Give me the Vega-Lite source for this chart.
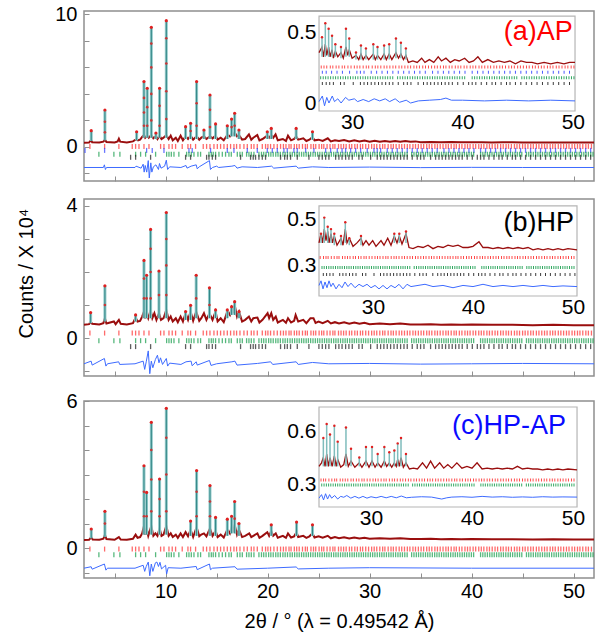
{
"$schema":"https://vega.github.io/schema/vega-lite/v6.json",
"background":"white",
"padding":{"left":15,"top":3,"right":5,"bottom":5},
"config":{"font":"Liberation Sans","view":{"stroke":"#8f8f8f","strokeWidth":1.5},"axis":{"labelColor":"#000","titleColor":"#000","labelFont":"Liberation Sans","titleFont":"Liberation Sans"}},
"datasets":{
"bragg":[
{"ph":"red","ya":0.04,"yb":0.15,"yc":-0.04,"ia":0.257,"ib":0.337,"ic":0.323,"xs":[2.58,4.02,5.42,6.73,7.06,7.39,7.88,8.37,9.51,9.84,10.33,10.65,10.98,11.63,12.19,12.45,12.94,13.69,14.02,14.35,14.74,15.07,15.39,15.72,16.05,16.37,16.7,16.96,17.29,17.68,18.01,18.4,18.66,18.99,19.48,19.8,20.03,20.29,20.62,20.95,21.27,21.55,21.8,22.1,22.3,22.62,22.85,23.1,23.42,23.7,23.9,24.25,24.5,24.72,25.05,25.3,25.51,25.83,26.12,26.4,26.6,26.95,27.2,27.45,27.7,28.02,28.25,28.55,28.8,29.1,29.32,29.62,29.9,30.2,30.45,30.7,31.0,31.28,31.5,31.82,32.1,32.33,32.6,32.9,33.15,33.42,33.7,33.95,34.25,34.5,34.78,35.05,35.3,35.6,35.85,36.1,36.4,36.65,36.92,37.2,37.48,37.72,38.0,38.28,38.5,38.8,39.05,39.35,39.6,39.85,40.15,40.4,40.7,40.95,41.2,41.5,41.75,42.02,42.3,42.55,42.85,43.1,43.38,43.62,43.9,44.2,44.45,44.7,45.0,45.25,45.52,45.8,46.05,46.35,46.6,46.88,47.15,47.4,47.7,47.95,48.2,48.5,48.75,49.02,49.3,49.55,49.85,50.1,50.38,50.62,50.9,51.2,51.45,51.75]},
{"ph":"blue","ya":-0.26,"ia":0.22,"xs":[2.1,4.02,8.14,8.69,9.84,12.29,12.61,14.41,16.05,16.7,18.01,18.99,19.97,20.46,20.95,21.6,21.93,22.58,22.91,23.73,24.54,25.69,26.18,26.83,27.3,27.65,28.14,28.63,29.12,29.77,30.43,30.75,31.08,31.73,32.22,32.71,33.2,33.69,34.18,34.67,35.16,35.65,36.14,36.63,37.29,37.78,38.27,38.76,39.25,39.74,40.23,40.88,41.37,41.86,42.35,42.84,43.33,43.82,44.31,44.8,45.29,45.78,46.27,46.76,47.25,47.74,48.23,48.72,49.21,49.7,50.19,50.68,51.18,51.67]},
{"ph":"green","ya":-0.55,"yb":-0.08,"yc":-0.27,"ia":0.18,"ib":0.293,"ic":0.295,"xs":[3.46,4.93,5.52,7.06,7.55,8.04,9.02,10.1,10.33,10.56,10.82,11.3,12.06,12.29,12.52,12.78,13.17,13.43,14.25,14.48,14.67,14.9,15.23,15.56,15.88,16.21,16.44,17.03,17.29,17.52,17.94,18.17,18.4,18.66,19.15,19.4,19.62,19.85,20.1,20.32,20.55,20.8,21.02,21.25,21.5,21.72,21.95,22.2,22.42,22.65,22.88,23.1,23.33,23.55,23.78,24.0,24.22,24.45,24.68,24.9,25.12,25.35,25.58,25.8,26.02,26.25,26.48,26.7,26.92,27.15,27.38,27.6,27.82,28.05,28.28,28.5,28.72,28.95,29.18,29.4,29.62,29.85,30.08,30.3,30.52,30.75,30.98,31.2,31.42,31.65,31.88,32.1,32.32,32.55,32.78,33.0,33.22,33.45,33.68,34.12,34.35,34.58,34.8,35.02,35.25,35.48,35.7,35.92,36.15,36.38,36.6,36.82,37.05,37.28,37.5,37.72,37.95,38.18,38.4,38.62,38.85,39.08,39.3,39.52,39.75,39.98,40.2,40.88,41.1,41.32,41.55,41.78,42.0,42.22,42.45,42.68,42.9,43.12,43.35,43.58,43.8,44.02,44.25,44.48,44.7,44.92,45.38,45.6,45.82,46.05,46.28,46.5,46.72,46.95,47.18,47.4,47.62,47.85,48.08,48.3,48.52,48.75,48.98,49.2,49.42,49.65,49.88,50.1,50.32,50.55,50.78,51.0,51.22,51.45,51.68,51.9]},
{"ph":"black","ya":-0.78,"yb":-0.26,"ia":0.14,"ib":0.263,"xs":[6.57,7.06,8.53,11.96,12.45,14.02,14.25,14.58,14.9,17.35,18.33,18.59,18.82,19.15,19.48,19.8,21.27,21.67,21.93,22.25,22.91,24.05,25.03,25.36,25.69,26.01,26.67,26.99,27.3,27.65,27.97,28.3,28.95,29.28,30.1,30.75,31.08,31.4,31.73,32.06,32.39,32.71,33.04,33.37,33.69,34.18,34.67,35.0,35.33,35.98,36.47,36.8,37.12,37.45,37.78,38.1,38.43,38.76,39.08,39.57,40.07,40.56,40.88,41.21,41.7,42.19,42.68,43.0,43.5,43.99,44.31,44.8,45.29,45.78,46.27,46.76,47.25,47.74,48.23,48.72,49.21,49.7,50.19,50.68,51.18,51.67]}
],
"la":[{"x":2,"y":0.32},{"x":2.5,"y":0.33},{"x":2.62,"y":0.45},{"x":2.71,"y":0.5},{"x":2.8,"y":0.36},{"x":3.5,"y":0.33},{"x":3.9,"y":0.4},{"x":4.05,"y":0.55},{"x":4.2,"y":0.38},{"x":5.0,"y":0.34},{"x":5.3,"y":0.42},{"x":5.42,"y":0.62},{"x":5.55,"y":0.4},{"x":6.2,"y":0.34},{"x":6.8,"y":0.42},{"x":7.16,"y":0.6},{"x":7.3,"y":0.5},{"x":7.5,"y":0.55},{"x":7.7,"y":0.75},{"x":7.88,"y":0.9},{"x":8.0,"y":0.7},{"x":8.2,"y":0.85},{"x":8.35,"y":0.7},{"x":8.6,"y":0.9},{"x":8.8,"y":0.65},{"x":9.05,"y":0.8},{"x":9.2,"y":0.6},{"x":9.41,"y":0.85},{"x":9.6,"y":0.6},{"x":9.8,"y":0.7},{"x":10.07,"y":0.9},{"x":10.3,"y":0.6},{"x":10.5,"y":0.85},{"x":10.7,"y":0.5},{"x":11.0,"y":0.7},{"x":11.2,"y":0.45},{"x":11.47,"y":0.85},{"x":11.7,"y":0.5},{"x":11.96,"y":0.8},{"x":12.2,"y":0.6},{"x":12.45,"y":0.85},{"x":12.7,"y":0.55},{"x":13.04,"y":0.8},{"x":13.3,"y":0.55},{"x":13.5,"y":0.7},{"x":13.76,"y":0.8},{"x":14.0,"y":0.6},{"x":14.35,"y":0.8},{"x":14.6,"y":0.65},{"x":14.9,"y":0.85},{"x":15.1,"y":0.55},{"x":15.4,"y":0.7},{"x":15.7,"y":0.5},{"x":16.05,"y":0.9},{"x":16.3,"y":0.8},{"x":16.47,"y":1.0},{"x":16.6,"y":0.9},{"x":16.77,"y":1.1},{"x":17.0,"y":0.8},{"x":17.19,"y":0.9},{"x":17.5,"y":0.55},{"x":17.8,"y":0.6},{"x":18.17,"y":0.95},{"x":18.4,"y":0.55},{"x":18.6,"y":0.7},{"x":18.99,"y":0.9},{"x":19.2,"y":0.5},{"x":19.5,"y":0.6},{"x":19.97,"y":0.85},{"x":20.15,"y":0.7},{"x":20.36,"y":0.9},{"x":20.55,"y":0.7},{"x":20.78,"y":0.95},{"x":21.0,"y":0.5},{"x":21.5,"y":0.6},{"x":21.8,"y":0.45},{"x":22.0,"y":0.85},{"x":22.3,"y":0.5},{"x":22.6,"y":0.6},{"x":22.8,"y":0.8},{"x":23.0,"y":0.55},{"x":23.5,"y":0.65},{"x":23.8,"y":0.45},{"x":24.1,"y":0.55},{"x":24.4,"y":0.75},{"x":24.6,"y":0.5},{"x":25.0,"y":0.55},{"x":25.4,"y":0.45},{"x":25.9,"y":0.65},{"x":26.2,"y":0.42},{"x":26.6,"y":0.5},{"x":27.0,"y":0.45},{"x":27.5,"y":0.52},{"x":28.0,"y":0.42},{"x":28.5,"y":0.5},{"x":29.0,"y":0.42},{"x":29.5,"y":0.48},{"x":30.0,"y":0.4},{"x":30.5,"y":0.46},{"x":31,"y":0.4},{"x":31.5,"y":0.45},{"x":32,"y":0.4},{"x":32.5,"y":0.44},{"x":33,"y":0.4},{"x":33.5,"y":0.44},{"x":34,"y":0.4},{"x":34.5,"y":0.42},{"x":35,"y":0.36},{"x":36,"y":0.38},{"x":37,"y":0.35},{"x":38,"y":0.37},{"x":39,"y":0.35},{"x":40,"y":0.36},{"x":41,"y":0.35},{"x":42,"y":0.34},{"x":43,"y":0.35},{"x":44,"y":0.35},{"x":45,"y":0.34},{"x":46,"y":0.33},{"x":47,"y":0.34},{"x":48,"y":0.34},{"x":49,"y":0.33},{"x":50,"y":0.33},{"x":51,"y":0.33},{"x":52,"y":0.33}],
"pa":[{"x":2.71,"b":0.45,"y":1.23},{"x":4.05,"b":0.5,"y":2.79},{"x":7.16,"b":0.5,"y":1.15},{"x":7.88,"b":0.7,"y":4.93},{"x":8.2,"b":0.7,"y":4.43},{"x":8.6,"b":0.7,"y":9.03},{"x":9.05,"b":0.6,"y":1.05},{"x":9.41,"b":0.7,"y":4.43},{"x":10.07,"b":0.7,"y":9.53},{"x":11.96,"b":0.6,"y":1.53},{"x":12.45,"b":0.6,"y":1.79},{"x":13.04,"b":0.6,"y":4.93},{"x":13.76,"b":0.6,"y":1.28},{"x":14.35,"b":0.6,"y":3.92},{"x":14.9,"b":0.6,"y":1.74},{"x":16.05,"b":0.6,"y":1.6},{"x":16.47,"b":0.8,"y":2.1},{"x":16.77,"b":0.8,"y":2.54},{"x":17.19,"b":0.6,"y":1.28},{"x":19.97,"b":0.6,"y":1.15},{"x":20.36,"b":0.6,"y":1.4},{"x":22.8,"b":0.6,"y":1.4},{"x":24.4,"b":0.55,"y":1.15}],
"oa":[{"x":4.05,"y":1.1},{"x":4.05,"y":1.9},{"x":7.88,"y":1.6},{"x":7.88,"y":2.6},{"x":7.88,"y":3.7},{"x":8.2,"y":1.6},{"x":8.2,"y":3.0},{"x":8.6,"y":2.0},{"x":8.6,"y":4.0},{"x":8.6,"y":6.0},{"x":8.6,"y":7.8},{"x":9.41,"y":1.6},{"x":9.41,"y":3.1},{"x":10.07,"y":2.1},{"x":10.07,"y":4.2},{"x":10.07,"y":6.3},{"x":10.07,"y":8.2},{"x":13.04,"y":1.6},{"x":13.04,"y":3.3},{"x":14.35,"y":1.5},{"x":14.35,"y":2.8},{"x":16.77,"y":1.6},{"x":12.45,"y":1.2},{"x":16.47,"y":1.5}],
"da":[{"x":2,"y":-1.55},{"x":3.9,"y":-1.55},{"x":4.0,"y":-1.35},{"x":4.1,"y":-1.7},{"x":4.2,"y":-1.55},{"x":7.0,"y":-1.55},{"x":7.1,"y":-1.45},{"x":7.6,"y":-1.6},{"x":7.8,"y":-1.3},{"x":7.9,"y":-1.9},{"x":8.0,"y":-1.4},{"x":8.15,"y":-1.9},{"x":8.3,"y":-1.03},{"x":8.4,"y":-2.34},{"x":8.55,"y":-1.2},{"x":8.65,"y":-1.9},{"x":8.8,"y":-1.5},{"x":9.05,"y":-1.35},{"x":9.3,"y":-1.7},{"x":9.4,"y":-1.25},{"x":9.55,"y":-1.6},{"x":9.9,"y":-1.45},{"x":10.07,"y":-1.0},{"x":10.2,"y":-1.7},{"x":10.4,"y":-1.5},{"x":11.5,"y":-1.55},{"x":12.0,"y":-1.4},{"x":12.1,"y":-1.6},{"x":12.5,"y":-1.45},{"x":13.0,"y":-1.35},{"x":13.1,"y":-1.65},{"x":13.3,"y":-1.5},{"x":14.3,"y":-1.03},{"x":14.4,"y":-1.7},{"x":14.6,"y":-1.55},{"x":15.0,"y":-1.45},{"x":15.2,"y":-1.55},{"x":16.5,"y":-1.45},{"x":16.8,"y":-1.4},{"x":17.0,"y":-1.6},{"x":17.5,"y":-1.5},{"x":19.0,"y":-1.55},{"x":20.4,"y":-1.45},{"x":20.6,"y":-1.6},{"x":22.8,"y":-1.45},{"x":23.0,"y":-1.6},{"x":24.4,"y":-1.5},{"x":26,"y":-1.55},{"x":30,"y":-1.52},{"x":35,"y":-1.56},{"x":40,"y":-1.54},{"x":45,"y":-1.55},{"x":52,"y":-1.55}],
"lb":[{"x":2,"y":0.4},{"x":2.5,"y":0.42},{"x":2.65,"y":0.5},{"x":2.8,"y":0.43},{"x":3.5,"y":0.41},{"x":3.9,"y":0.45},{"x":4.05,"y":0.6},{"x":4.2,"y":0.44},{"x":4.93,"y":0.5},{"x":5.1,"y":0.42},{"x":5.42,"y":0.55},{"x":5.6,"y":0.43},{"x":6.2,"y":0.41},{"x":6.8,"y":0.45},{"x":7.06,"y":0.62},{"x":7.25,"y":0.5},{"x":7.5,"y":0.52},{"x":7.7,"y":0.65},{"x":7.88,"y":0.8},{"x":8.0,"y":0.6},{"x":8.14,"y":0.75},{"x":8.3,"y":0.6},{"x":8.53,"y":0.85},{"x":8.7,"y":0.6},{"x":8.9,"y":0.75},{"x":9.1,"y":0.55},{"x":9.35,"y":0.75},{"x":9.55,"y":0.55},{"x":9.8,"y":0.6},{"x":10.07,"y":0.85},{"x":10.3,"y":0.55},{"x":10.5,"y":0.65},{"x":10.7,"y":0.5},{"x":11.0,"y":0.6},{"x":11.2,"y":0.48},{"x":11.47,"y":0.65},{"x":11.7,"y":0.5},{"x":11.96,"y":0.75},{"x":12.2,"y":0.55},{"x":12.45,"y":0.8},{"x":12.7,"y":0.52},{"x":13.0,"y":0.8},{"x":13.3,"y":0.52},{"x":13.5,"y":0.6},{"x":13.76,"y":0.75},{"x":14.0,"y":0.55},{"x":14.3,"y":0.75},{"x":14.6,"y":0.55},{"x":14.9,"y":0.8},{"x":15.1,"y":0.5},{"x":15.4,"y":0.6},{"x":15.7,"y":0.48},{"x":16.05,"y":0.8},{"x":16.3,"y":0.7},{"x":16.47,"y":0.9},{"x":16.6,"y":0.75},{"x":16.77,"y":1.0},{"x":17.0,"y":0.65},{"x":17.2,"y":0.8},{"x":17.5,"y":0.5},{"x":17.8,"y":0.55},{"x":18.17,"y":0.65},{"x":18.4,"y":0.5},{"x":18.6,"y":0.6},{"x":19.0,"y":0.62},{"x":19.2,"y":0.47},{"x":19.5,"y":0.55},{"x":20.0,"y":0.75},{"x":20.15,"y":0.6},{"x":20.36,"y":0.75},{"x":20.55,"y":0.55},{"x":20.8,"y":0.65},{"x":21.0,"y":0.47},{"x":21.5,"y":0.55},{"x":21.8,"y":0.46},{"x":22.0,"y":0.6},{"x":22.3,"y":0.47},{"x":22.6,"y":0.52},{"x":22.75,"y":0.7},{"x":23.0,"y":0.5},{"x":23.5,"y":0.55},{"x":23.8,"y":0.45},{"x":24.2,"y":0.6},{"x":24.5,"y":0.6},{"x":24.7,"y":0.46},{"x":25.0,"y":0.5},{"x":25.4,"y":0.45},{"x":25.9,"y":0.52},{"x":26.2,"y":0.44},{"x":26.6,"y":0.48},{"x":27,"y":0.44},{"x":27.5,"y":0.48},{"x":28,"y":0.43},{"x":28.5,"y":0.47},{"x":29,"y":0.43},{"x":29.5,"y":0.46},{"x":30,"y":0.42},{"x":31,"y":0.44},{"x":32,"y":0.42},{"x":33,"y":0.44},{"x":34,"y":0.41},{"x":35,"y":0.41},{"x":36,"y":0.42},{"x":37,"y":0.4},{"x":38,"y":0.41},{"x":39,"y":0.4},{"x":40,"y":0.41},{"x":42,"y":0.4},{"x":44,"y":0.4},{"x":46,"y":0.39},{"x":48,"y":0.4},{"x":50,"y":0.39},{"x":52,"y":0.39}],
"pb":[{"x":2.65,"b":0.45,"y":0.77},{"x":4.05,"b":0.5,"y":1.58},{"x":7.06,"b":0.5,"y":0.7},{"x":7.88,"b":0.6,"y":2.35},{"x":8.14,"b":0.6,"y":1.9},{"x":8.53,"b":0.6,"y":3.29},{"x":9.35,"b":0.6,"y":2.03},{"x":10.07,"b":0.6,"y":3.8},{"x":11.96,"b":0.55,"y":0.8},{"x":12.45,"b":0.55,"y":0.99},{"x":13.0,"b":0.6,"y":1.9},{"x":14.3,"b":0.6,"y":1.52},{"x":14.9,"b":0.6,"y":0.85},{"x":16.05,"b":0.6,"y":0.85},{"x":16.47,"b":0.7,"y":0.95},{"x":16.77,"b":0.7,"y":1.1},{"x":17.2,"b":0.6,"y":0.8}],
"ob":[{"x":4.05,"y":1.0},{"x":7.88,"y":1.2},{"x":7.88,"y":1.8},{"x":8.14,"y":1.2},{"x":8.53,"y":1.2},{"x":8.53,"y":2.0},{"x":8.53,"y":2.7},{"x":9.35,"y":1.3},{"x":10.07,"y":1.3},{"x":10.07,"y":2.2},{"x":10.07,"y":3.0},{"x":13.0,"y":1.2},{"x":14.3,"y":1.0}],
"db":[{"x":2,"y":-0.78},{"x":2.7,"y":-0.7},{"x":2.8,"y":-0.82},{"x":4.0,"y":-0.62},{"x":4.15,"y":-0.85},{"x":4.3,"y":-0.78},{"x":5.4,"y":-0.72},{"x":5.5,"y":-0.8},{"x":7.0,"y":-0.78},{"x":7.8,"y":-0.7},{"x":7.95,"y":-0.95},{"x":8.1,"y":-0.72},{"x":8.3,"y":-0.39},{"x":8.45,"y":-1.08},{"x":8.6,"y":-0.7},{"x":8.75,"y":-0.9},{"x":9.0,"y":-0.65},{"x":9.2,"y":-0.52},{"x":9.35,"y":-0.75},{"x":9.5,"y":-0.6},{"x":9.7,"y":-0.8},{"x":10.07,"y":-0.62},{"x":10.2,"y":-0.85},{"x":10.4,"y":-0.76},{"x":11.5,"y":-0.8},{"x":12.0,"y":-0.72},{"x":12.5,"y":-0.7},{"x":12.6,"y":-0.84},{"x":13.0,"y":-0.72},{"x":13.1,"y":-0.82},{"x":14.3,"y":-0.68},{"x":14.45,"y":-0.83},{"x":15,"y":-0.78},{"x":16.5,"y":-0.72},{"x":16.8,"y":-0.7},{"x":17.0,"y":-0.82},{"x":19.0,"y":-0.77},{"x":20.3,"y":-0.72},{"x":20.5,"y":-0.8},{"x":22.8,"y":-0.72},{"x":23.0,"y":-0.8},{"x":24.4,"y":-0.74},{"x":26,"y":-0.78},{"x":30,"y":-0.77},{"x":35,"y":-0.79},{"x":40,"y":-0.78},{"x":45,"y":-0.77},{"x":52,"y":-0.78}],
"lc":[{"x":2,"y":0.33},{"x":2.5,"y":0.34},{"x":2.71,"y":0.45},{"x":2.85,"y":0.35},{"x":3.5,"y":0.34},{"x":3.9,"y":0.38},{"x":4.05,"y":0.55},{"x":4.2,"y":0.37},{"x":5.0,"y":0.34},{"x":5.42,"y":0.45},{"x":5.6,"y":0.35},{"x":6.2,"y":0.34},{"x":6.8,"y":0.38},{"x":7.06,"y":0.55},{"x":7.25,"y":0.42},{"x":7.5,"y":0.45},{"x":7.7,"y":0.6},{"x":7.88,"y":0.9},{"x":8.0,"y":0.55},{"x":8.14,"y":0.8},{"x":8.3,"y":0.5},{"x":8.6,"y":0.9},{"x":8.8,"y":0.5},{"x":9.0,"y":0.6},{"x":9.2,"y":0.5},{"x":9.41,"y":0.8},{"x":9.6,"y":0.5},{"x":9.8,"y":0.55},{"x":10.07,"y":0.9},{"x":10.3,"y":0.5},{"x":10.5,"y":0.6},{"x":10.7,"y":0.45},{"x":11.0,"y":0.55},{"x":11.2,"y":0.42},{"x":11.47,"y":0.6},{"x":11.7,"y":0.45},{"x":11.96,"y":0.65},{"x":12.2,"y":0.48},{"x":12.45,"y":0.75},{"x":12.7,"y":0.45},{"x":13.04,"y":0.85},{"x":13.3,"y":0.48},{"x":13.5,"y":0.55},{"x":13.76,"y":0.6},{"x":14.0,"y":0.48},{"x":14.35,"y":0.8},{"x":14.6,"y":0.5},{"x":14.9,"y":0.7},{"x":15.1,"y":0.45},{"x":15.4,"y":0.55},{"x":15.7,"y":0.43},{"x":16.05,"y":0.75},{"x":16.3,"y":0.6},{"x":16.47,"y":0.85},{"x":16.6,"y":0.65},{"x":16.77,"y":0.95},{"x":17.0,"y":0.55},{"x":17.19,"y":0.75},{"x":17.5,"y":0.45},{"x":17.8,"y":0.5},{"x":18.2,"y":0.6},{"x":18.4,"y":0.45},{"x":18.6,"y":0.5},{"x":19.0,"y":0.6},{"x":19.2,"y":0.42},{"x":19.5,"y":0.5},{"x":19.97,"y":0.65},{"x":20.15,"y":0.5},{"x":20.36,"y":0.7},{"x":20.55,"y":0.5},{"x":20.8,"y":0.6},{"x":21.0,"y":0.42},{"x":21.5,"y":0.5},{"x":21.8,"y":0.42},{"x":22.0,"y":0.6},{"x":22.3,"y":0.43},{"x":22.6,"y":0.48},{"x":22.84,"y":0.65},{"x":23.0,"y":0.45},{"x":23.5,"y":0.5},{"x":23.8,"y":0.42},{"x":24.1,"y":0.48},{"x":24.4,"y":0.6},{"x":24.6,"y":0.43},{"x":25.0,"y":0.48},{"x":25.4,"y":0.42},{"x":25.9,"y":0.5},{"x":26.2,"y":0.4},{"x":26.6,"y":0.45},{"x":27,"y":0.4},{"x":27.5,"y":0.44},{"x":28,"y":0.39},{"x":28.5,"y":0.43},{"x":29,"y":0.39},{"x":29.5,"y":0.42},{"x":30,"y":0.38},{"x":31,"y":0.4},{"x":32,"y":0.38},{"x":33,"y":0.4},{"x":34,"y":0.37},{"x":35,"y":0.37},{"x":36,"y":0.38},{"x":37,"y":0.36},{"x":38,"y":0.37},{"x":39,"y":0.36},{"x":40,"y":0.37},{"x":42,"y":0.36},{"x":44,"y":0.36},{"x":46,"y":0.35},{"x":48,"y":0.36},{"x":50,"y":0.35},{"x":52,"y":0.35}],
"pc":[{"x":2.71,"b":0.4,"y":0.78},{"x":4.05,"b":0.45,"y":1.5},{"x":7.88,"b":0.55,"y":3.36},{"x":8.14,"b":0.55,"y":2.27},{"x":8.6,"b":0.55,"y":5.13},{"x":9.41,"b":0.55,"y":2.82},{"x":10.07,"b":0.55,"y":5.7},{"x":12.45,"b":0.5,"y":1.1},{"x":13.04,"b":0.5,"y":3.16},{"x":14.35,"b":0.5,"y":2.55},{"x":14.9,"b":0.5,"y":1.25},{"x":16.05,"b":0.5,"y":1.18},{"x":16.47,"b":0.6,"y":1.3},{"x":16.77,"b":0.6,"y":1.9},{"x":17.19,"b":0.5,"y":1.0},{"x":20.36,"b":0.5,"y":0.95},{"x":22.84,"b":0.5,"y":1.06},{"x":24.4,"b":0.5,"y":0.95}],
"oc":[{"x":4.05,"y":1.0},{"x":7.88,"y":1.3},{"x":7.88,"y":2.3},{"x":8.14,"y":1.3},{"x":8.6,"y":1.5},{"x":8.6,"y":2.8},{"x":8.6,"y":4.0},{"x":9.41,"y":1.3},{"x":9.41,"y":2.0},{"x":10.07,"y":1.5},{"x":10.07,"y":3.0},{"x":10.07,"y":4.5},{"x":13.04,"y":1.3},{"x":13.04,"y":2.3},{"x":14.35,"y":1.3},{"x":14.35,"y":1.9},{"x":16.77,"y":1.2}],
"dc":[{"x":2,"y":-0.82},{"x":2.7,"y":-0.76},{"x":2.8,"y":-0.86},{"x":4.0,"y":-0.65},{"x":4.15,"y":-0.9},{"x":4.3,"y":-0.82},{"x":7.0,"y":-0.82},{"x":7.8,"y":-0.7},{"x":7.95,"y":-0.95},{"x":8.1,"y":-0.75},{"x":8.3,"y":-0.57},{"x":8.45,"y":-1.13},{"x":8.6,"y":-0.65},{"x":8.75,"y":-0.95},{"x":9.0,"y":-0.6},{"x":9.15,"y":-0.57},{"x":9.3,"y":-0.75},{"x":9.45,"y":-0.58},{"x":9.6,"y":-0.85},{"x":10.0,"y":-0.7},{"x":10.1,"y":-1.06},{"x":10.25,"y":-0.8},{"x":11.5,"y":-0.82},{"x":13.0,"y":-0.75},{"x":13.1,"y":-0.88},{"x":14.3,"y":-0.65},{"x":14.4,"y":-0.88},{"x":14.6,"y":-0.82},{"x":16.8,"y":-0.76},{"x":17.0,"y":-0.86},{"x":20,"y":-0.82},{"x":22.8,"y":-0.77},{"x":23,"y":-0.85},{"x":26,"y":-0.82},{"x":30,"y":-0.8},{"x":40,"y":-0.82},{"x":52,"y":-0.82}],
"ila":[{"x":27.0,"y":0.36},{"x":27.27,"y":0.4},{"x":27.4,"y":0.33},{"x":27.57,"y":0.42},{"x":27.7,"y":0.34},{"x":27.87,"y":0.4},{"x":28.0,"y":0.33},{"x":28.18,"y":0.38},{"x":28.3,"y":0.32},{"x":28.48,"y":0.37},{"x":28.7,"y":0.33},{"x":28.99,"y":0.36},{"x":29.2,"y":0.32},{"x":29.44,"y":0.4},{"x":29.6,"y":0.34},{"x":29.74,"y":0.38},{"x":30.0,"y":0.32},{"x":30.35,"y":0.34},{"x":30.6,"y":0.31},{"x":30.8,"y":0.35},{"x":31.0,"y":0.31},{"x":31.25,"y":0.34},{"x":31.5,"y":0.31},{"x":31.92,"y":0.35},{"x":32.1,"y":0.31},{"x":32.3,"y":0.34},{"x":32.6,"y":0.31},{"x":32.9,"y":0.35},{"x":33.1,"y":0.31},{"x":33.36,"y":0.35},{"x":33.6,"y":0.31},{"x":33.97,"y":0.36},{"x":34.2,"y":0.32},{"x":34.42,"y":0.35},{"x":34.65,"y":0.31},{"x":34.87,"y":0.34},{"x":35.1,"y":0.29},{"x":35.5,"y":0.3},{"x":35.9,"y":0.29},{"x":36.3,"y":0.32},{"x":36.6,"y":0.29},{"x":37.0,"y":0.31},{"x":37.4,"y":0.29},{"x":37.8,"y":0.33},{"x":38.1,"y":0.3},{"x":38.5,"y":0.32},{"x":38.9,"y":0.29},{"x":39.3,"y":0.31},{"x":39.7,"y":0.3},{"x":40.2,"y":0.32},{"x":40.6,"y":0.29},{"x":41.0,"y":0.3},{"x":41.4,"y":0.33},{"x":41.8,"y":0.29},{"x":42.3,"y":0.31},{"x":42.8,"y":0.29},{"x":43.3,"y":0.3},{"x":43.8,"y":0.29},{"x":44.3,"y":0.3},{"x":44.8,"y":0.28},{"x":45.3,"y":0.3},{"x":45.8,"y":0.29},{"x":46.3,"y":0.29},{"x":46.8,"y":0.28},{"x":47.4,"y":0.29},{"x":48.0,"y":0.28},{"x":48.6,"y":0.29},{"x":49.2,"y":0.28},{"x":49.7,"y":0.29},{"x":50.2,"y":0.29}],
"ipa":[{"x":27.27,"b":0.33,"y":0.47},{"x":27.57,"b":0.33,"y":0.57},{"x":27.87,"b":0.33,"y":0.53},{"x":28.18,"b":0.33,"y":0.48},{"x":28.48,"b":0.33,"y":0.42},{"x":28.99,"b":0.32,"y":0.4},{"x":29.44,"b":0.33,"y":0.53},{"x":29.74,"b":0.33,"y":0.46},{"x":30.35,"b":0.31,"y":0.36},{"x":30.8,"b":0.31,"y":0.41},{"x":31.25,"b":0.31,"y":0.39},{"x":31.92,"b":0.31,"y":0.42},{"x":32.3,"b":0.31,"y":0.4},{"x":32.9,"b":0.31,"y":0.41},{"x":33.36,"b":0.31,"y":0.42},{"x":33.97,"b":0.32,"y":0.46},{"x":34.42,"b":0.32,"y":0.43},{"x":34.87,"b":0.31,"y":0.39}],
"ida":[{"x":27,"y":0.01},{"x":27.3,"y":0.05},{"x":27.5,"y":-0.02},{"x":27.7,"y":0.04},{"x":27.9,"y":0.0},{"x":28.2,"y":0.05},{"x":28.4,"y":0.01},{"x":28.7,"y":0.03},{"x":29.0,"y":0.0},{"x":29.4,"y":0.04},{"x":29.7,"y":0.02},{"x":30.2,"y":0.03},{"x":30.5,"y":0.01},{"x":31,"y":0.025},{"x":31.5,"y":0.01},{"x":32,"y":0.03},{"x":32.5,"y":0.015},{"x":33,"y":0.03},{"x":33.4,"y":0.01},{"x":33.9,"y":0.03},{"x":34.3,"y":0.005},{"x":34.9,"y":0.02},{"x":35.3,"y":0.0},{"x":36,"y":0.015},{"x":37,"y":0.02},{"x":38,"y":0.025},{"x":38.5,"y":0.035},{"x":39,"y":0.02},{"x":40,"y":0.02},{"x":42,"y":0.015},{"x":44,"y":0.02},{"x":46,"y":0.015},{"x":48,"y":0.02},{"x":50.2,"y":0.015}],
"ilb":[{"x":24.6,"y":0.4},{"x":24.8,"y":0.44},{"x":24.95,"y":0.4},{"x":25.13,"y":0.46},{"x":25.3,"y":0.41},{"x":25.47,"y":0.45},{"x":25.6,"y":0.4},{"x":25.8,"y":0.44},{"x":25.95,"y":0.4},{"x":26.13,"y":0.43},{"x":26.4,"y":0.39},{"x":26.8,"y":0.42},{"x":27.0,"y":0.39},{"x":27.23,"y":0.46},{"x":27.4,"y":0.4},{"x":27.63,"y":0.42},{"x":28.0,"y":0.385},{"x":28.4,"y":0.4},{"x":28.8,"y":0.42},{"x":29.0,"y":0.39},{"x":29.3,"y":0.41},{"x":29.6,"y":0.39},{"x":29.97,"y":0.41},{"x":30.3,"y":0.385},{"x":30.8,"y":0.41},{"x":31.1,"y":0.39},{"x":31.47,"y":0.42},{"x":31.8,"y":0.39},{"x":32.13,"y":0.43},{"x":32.4,"y":0.4},{"x":32.63,"y":0.43},{"x":32.9,"y":0.395},{"x":33.3,"y":0.44},{"x":33.6,"y":0.38},{"x":34.0,"y":0.375},{"x":34.5,"y":0.385},{"x":35.0,"y":0.38},{"x":35.5,"y":0.39},{"x":36.0,"y":0.375},{"x":36.5,"y":0.385},{"x":37.0,"y":0.38},{"x":37.5,"y":0.39},{"x":38.0,"y":0.385},{"x":38.5,"y":0.39},{"x":39.0,"y":0.38},{"x":39.5,"y":0.38},{"x":40.0,"y":0.385},{"x":40.6,"y":0.405},{"x":41.0,"y":0.38},{"x":41.5,"y":0.38},{"x":42.0,"y":0.375},{"x":42.5,"y":0.38},{"x":43,"y":0.375},{"x":43.5,"y":0.38},{"x":44.0,"y":0.375},{"x":44.5,"y":0.38},{"x":45,"y":0.375},{"x":45.5,"y":0.38},{"x":46,"y":0.37},{"x":46.5,"y":0.375},{"x":47,"y":0.37},{"x":47.5,"y":0.375},{"x":48,"y":0.37},{"x":48.5,"y":0.375},{"x":49,"y":0.37},{"x":49.5,"y":0.375},{"x":50.4,"y":0.37}],
"ipb":[{"x":24.8,"b":0.4,"y":0.44},{"x":25.13,"b":0.4,"y":0.51},{"x":25.47,"b":0.4,"y":0.47},{"x":25.8,"b":0.4,"y":0.46},{"x":26.13,"b":0.39,"y":0.44},{"x":26.8,"b":0.39,"y":0.43},{"x":27.23,"b":0.4,"y":0.49},{"x":27.63,"b":0.39,"y":0.42},{"x":28.8,"b":0.39,"y":0.43},{"x":32.13,"b":0.4,"y":0.44},{"x":32.63,"b":0.4,"y":0.44},{"x":33.3,"b":0.4,"y":0.45}],
"idb":[{"x":24.6,"y":0.215},{"x":24.8,"y":0.235},{"x":25.0,"y":0.2},{"x":25.2,"y":0.23},{"x":25.4,"y":0.205},{"x":25.6,"y":0.235},{"x":25.8,"y":0.21},{"x":26.0,"y":0.225},{"x":26.3,"y":0.2},{"x":26.6,"y":0.22},{"x":26.9,"y":0.205},{"x":27.2,"y":0.23},{"x":27.5,"y":0.21},{"x":27.8,"y":0.225},{"x":28.2,"y":0.205},{"x":28.6,"y":0.22},{"x":29.0,"y":0.21},{"x":29.4,"y":0.22},{"x":29.8,"y":0.205},{"x":30.2,"y":0.215},{"x":30.6,"y":0.2},{"x":31.0,"y":0.215},{"x":31.4,"y":0.2},{"x":31.8,"y":0.215},{"x":32.2,"y":0.205},{"x":32.6,"y":0.22},{"x":33.0,"y":0.2},{"x":33.4,"y":0.22},{"x":33.8,"y":0.21},{"x":34.5,"y":0.215},{"x":35.2,"y":0.22},{"x":36,"y":0.21},{"x":37,"y":0.215},{"x":38,"y":0.205},{"x":39,"y":0.215},{"x":40,"y":0.21},{"x":41,"y":0.22},{"x":42,"y":0.21},{"x":43,"y":0.215},{"x":44,"y":0.21},{"x":45,"y":0.215},{"x":46,"y":0.21},{"x":47,"y":0.215},{"x":48,"y":0.21},{"x":49,"y":0.213},{"x":50.4,"y":0.21}],
"ilc":[{"x":24.85,"y":0.4},{"x":25.1,"y":0.42},{"x":25.28,"y":0.45},{"x":25.45,"y":0.4},{"x":25.61,"y":0.47},{"x":25.78,"y":0.4},{"x":25.94,"y":0.45},{"x":26.15,"y":0.4},{"x":26.37,"y":0.46},{"x":26.55,"y":0.4},{"x":26.7,"y":0.44},{"x":27.0,"y":0.395},{"x":27.3,"y":0.41},{"x":27.52,"y":0.47},{"x":27.75,"y":0.4},{"x":28.02,"y":0.43},{"x":28.4,"y":0.395},{"x":28.84,"y":0.42},{"x":29.1,"y":0.395},{"x":29.5,"y":0.43},{"x":29.8,"y":0.395},{"x":30.1,"y":0.43},{"x":30.4,"y":0.395},{"x":30.66,"y":0.42},{"x":31.0,"y":0.395},{"x":31.32,"y":0.43},{"x":31.55,"y":0.4},{"x":31.81,"y":0.42},{"x":32.05,"y":0.395},{"x":32.31,"y":0.42},{"x":32.5,"y":0.4},{"x":32.64,"y":0.44},{"x":32.8,"y":0.4},{"x":32.97,"y":0.45},{"x":33.2,"y":0.395},{"x":33.46,"y":0.42},{"x":33.8,"y":0.385},{"x":34.2,"y":0.39},{"x":34.6,"y":0.385},{"x":35.1,"y":0.42},{"x":35.5,"y":0.39},{"x":35.9,"y":0.43},{"x":36.3,"y":0.39},{"x":36.8,"y":0.42},{"x":37.2,"y":0.39},{"x":37.6,"y":0.41},{"x":38.0,"y":0.39},{"x":38.5,"y":0.42},{"x":39.0,"y":0.39},{"x":39.5,"y":0.4},{"x":40.0,"y":0.39},{"x":40.5,"y":0.42},{"x":41.0,"y":0.385},{"x":41.5,"y":0.39},{"x":42.0,"y":0.385},{"x":42.5,"y":0.39},{"x":43.0,"y":0.385},{"x":43.5,"y":0.39},{"x":44.0,"y":0.385},{"x":44.5,"y":0.4},{"x":45.0,"y":0.385},{"x":45.5,"y":0.39},{"x":46.0,"y":0.385},{"x":46.5,"y":0.385},{"x":47.0,"y":0.38},{"x":47.5,"y":0.385},{"x":48.0,"y":0.38},{"x":48.5,"y":0.385},{"x":49.0,"y":0.38},{"x":49.5,"y":0.385},{"x":50.4,"y":0.38}],
"ipc":[{"x":25.28,"b":0.4,"y":0.56},{"x":25.61,"b":0.4,"y":0.64},{"x":25.94,"b":0.4,"y":0.58},{"x":26.37,"b":0.4,"y":0.63},{"x":26.7,"b":0.4,"y":0.54},{"x":27.52,"b":0.4,"y":0.62},{"x":28.02,"b":0.4,"y":0.5},{"x":28.84,"b":0.4,"y":0.45},{"x":29.5,"b":0.4,"y":0.51},{"x":30.1,"b":0.4,"y":0.51},{"x":30.66,"b":0.4,"y":0.47},{"x":31.32,"b":0.4,"y":0.51},{"x":31.81,"b":0.4,"y":0.48},{"x":32.31,"b":0.4,"y":0.49},{"x":32.64,"b":0.4,"y":0.53},{"x":32.97,"b":0.4,"y":0.56},{"x":33.46,"b":0.4,"y":0.47}],
"idc":[{"x":24.85,"y":0.22},{"x":25.1,"y":0.24},{"x":25.3,"y":0.21},{"x":25.5,"y":0.245},{"x":25.7,"y":0.215},{"x":25.9,"y":0.24},{"x":26.1,"y":0.22},{"x":26.4,"y":0.235},{"x":26.7,"y":0.215},{"x":27.0,"y":0.23},{"x":27.3,"y":0.225},{"x":27.6,"y":0.235},{"x":28,"y":0.22},{"x":28.4,"y":0.23},{"x":28.8,"y":0.22},{"x":29.2,"y":0.23},{"x":29.6,"y":0.22},{"x":30,"y":0.228},{"x":30.5,"y":0.222},{"x":31,"y":0.23},{"x":31.5,"y":0.222},{"x":32,"y":0.23},{"x":32.5,"y":0.222},{"x":33,"y":0.232},{"x":33.5,"y":0.222},{"x":34,"y":0.225},{"x":35,"y":0.228},{"x":36,"y":0.226},{"x":37,"y":0.215},{"x":37.5,"y":0.222},{"x":38,"y":0.226},{"x":39,"y":0.228},{"x":40,"y":0.225},{"x":41,"y":0.23},{"x":42,"y":0.226},{"x":43,"y":0.228},{"x":44,"y":0.225},{"x":45,"y":0.227},{"x":46,"y":0.225},{"x":47,"y":0.228},{"x":48,"y":0.226},{"x":49,"y":0.227},{"x":50.4,"y":0.226}]
},
"vconcat":[
{"width":510,"height":170,
 "resolve":{"scale":{"x":"independent","y":"independent"},"axis":{"x":"independent","y":"independent"}},
 "layer":[
  {"encoding":{
    "x":{"field":"x","type":"quantitative","scale":{"domain":[2,52],"nice":false,"zero":false},"axis":{"values":[5,10,15,20,25,30,35,40,45,50],"labels":false,"domain":false,"grid":false,"title":null,"tickSize":-5,"tickColor":"#8f8f8f"}},
    "y":{"field":"y","type":"quantitative","scale":{"domain":[-2.57,10.26],"nice":false,"zero":false},"axis":{"values":[-2,0,2,4,6,8,10],"labelExpr":"datum.value == 0 || datum.value == 10 ? datum.label : ''","domain":false,"grid":false,"title":null,"tickSize":-5,"tickColor":"#8f8f8f","labelFontSize":20,"labelPadding":12}}},
   "layer":[
    {"data":{"name":"da"},"mark":{"type":"line","color":"#3d6bff","strokeWidth":1},"encoding":{}},
    {"data":{"name":"bragg"},"transform":[{"fold":["ya"],"as":["k","y"]},{"filter":{"field":"y","valid":true}},{"flatten":["xs"],"as":["x"]}],"mark":{"type":"tick","orient":"vertical","size":5,"thickness":1.3},"encoding":{"color":{"field":"ph","type":"nominal","scale":{"domain":["red","blue","green","black"],"range":["#ff2b2b","#2b3cff","#0f9a46","#1a1a1a"]},"legend":null}}},
    {"data":{"name":"la"},"mark":{"type":"line","color":"#9a0e0e","strokeWidth":2},"encoding":{}},
    {"data":{"name":"pa"},"mark":{"type":"rule","color":"#93caca","strokeWidth":3},"encoding":{"y2":{"field":"b"}}},
    {"data":{"name":"pa"},"mark":{"type":"rule","color":"#2f8585","strokeWidth":1},"encoding":{"y2":{"field":"b"}}},
    {"data":{"name":"pa"},"mark":{"type":"circle","color":"#e02020","size":10,"opacity":1},"encoding":{}},
    {"data":{"name":"oa"},"mark":{"type":"circle","color":"#d42a2a","size":7,"opacity":0.9},"encoding":{}}
   ]},
  {"encoding":{
    "x":{"field":"x","type":"quantitative","scale":{"domain":[5.70,51.92],"nice":false,"zero":false},"axis":{"orient":"bottom","offset":-70,"values":[30,40,50],"domain":false,"ticks":false,"grid":false,"title":null,"labelFontSize":21,"labelPadding":0,"labelFlush":false}},
    "y":{"field":"y","type":"quantitative","scale":{"domain":[-0.557,0.657],"nice":false,"zero":false},"axis":{"orient":"left","offset":-235,"values":[0,0.5],"format":"~g","domain":false,"ticks":false,"grid":false,"title":null,"labelFontSize":21,"labelPadding":3}}},
   "layer":[
    {"data":{"values":[{"x":27,"x2":50.2,"y":-0.057,"y2":0.621}]},"mark":{"type":"rect","fill":"white","stroke":"#b5b5b5","strokeWidth":1.2},"encoding":{"x2":{"field":"x2"},"y2":{"field":"y2"}}},
    {"data":{"name":"bragg"},"transform":[{"fold":["ia"],"as":["k","y"]},{"filter":{"field":"y","valid":true}},{"flatten":["xs"],"as":["x"]},{"filter":"datum.x >= 27.1 && datum.x <= 50.1"}],"mark":{"type":"tick","orient":"vertical","size":3,"thickness":1,"opacity":0.85},"encoding":{"color":{"field":"ph","type":"nominal","scale":{"domain":["red","blue","green","black"],"range":["#ff2b2b","#2b3cff","#0f9a46","#1a1a1a"]},"legend":null}}},
    {"data":{"name":"ida"},"mark":{"type":"line","color":"#3d6bff","strokeWidth":1},"encoding":{}},
    {"data":{"name":"ila"},"mark":{"type":"line","color":"#9a0e0e","strokeWidth":1.3},"encoding":{}},
    {"data":{"name":"ipa"},"mark":{"type":"rule","color":"#7fbcbc","strokeWidth":1.5},"encoding":{"y2":{"field":"b"}}},
    {"data":{"name":"ipa"},"mark":{"type":"circle","color":"#e02020","size":6,"opacity":1},"encoding":{}},
    {"data":{"values":[{"x":50.0,"y":0.45,"label":"(a)AP"}]},"mark":{"type":"text","color":"#ff0000","fontSize":27,"align":"right","baseline":"alphabetic"},"encoding":{"text":{"field":"label"}}}
   ]}
 ]},
{"width":510,"height":177,
 "resolve":{"scale":{"x":"independent","y":"independent"},"axis":{"x":"independent","y":"independent"}},
 "layer":[
  {"encoding":{
    "x":{"field":"x","type":"quantitative","scale":{"domain":[2,52],"nice":false,"zero":false},"axis":{"values":[5,10,15,20,25,30,35,40,45,50],"labels":false,"domain":false,"grid":false,"title":null,"tickSize":-5,"tickColor":"#8f8f8f"}},
    "y":{"field":"y","type":"quantitative","scale":{"domain":[-1.15,4.21],"nice":false,"zero":false},"axis":{"values":[-1,0,1,2,3,4],"labelExpr":"datum.value == 0 || datum.value == 4 ? datum.label : ''","domain":false,"grid":false,"tickSize":-5,"tickColor":"#8f8f8f","labelFontSize":20,"labelPadding":12,"title":"Counts  / X 10⁴","titleFontSize":20,"titleFontWeight":"normal","titleX":-58,"titleY":74,"titleBaseline":"middle"}}},
   "layer":[
    {"data":{"name":"db"},"mark":{"type":"line","color":"#3d6bff","strokeWidth":1},"encoding":{}},
    {"data":{"name":"bragg"},"transform":[{"fold":["yb"],"as":["k","y"]},{"filter":{"field":"y","valid":true}},{"flatten":["xs"],"as":["x"]}],"mark":{"type":"tick","orient":"vertical","size":5,"thickness":1.3},"encoding":{"color":{"field":"ph","type":"nominal","scale":{"domain":["red","blue","green","black"],"range":["#ff2b2b","#2b3cff","#0f9a46","#1a1a1a"]},"legend":null}}},
    {"data":{"name":"lb"},"mark":{"type":"line","color":"#9a0e0e","strokeWidth":2},"encoding":{}},
    {"data":{"name":"pb"},"mark":{"type":"rule","color":"#93caca","strokeWidth":3},"encoding":{"y2":{"field":"b"}}},
    {"data":{"name":"pb"},"mark":{"type":"rule","color":"#2f8585","strokeWidth":1},"encoding":{"y2":{"field":"b"}}},
    {"data":{"name":"pb"},"mark":{"type":"circle","color":"#e02020","size":10,"opacity":1},"encoding":{}},
    {"data":{"name":"ob"},"mark":{"type":"circle","color":"#d42a2a","size":7,"opacity":0.9},"encoding":{}}
   ]},
  {"encoding":{
    "x":{"field":"x","type":"quantitative","scale":{"domain":[1.1,52.1],"nice":false,"zero":false},"axis":{"orient":"bottom","offset":-80,"values":[30,40,50],"domain":false,"ticks":false,"grid":false,"title":null,"labelFontSize":21,"labelPadding":0,"labelFlush":false}},
    "y":{"field":"y","type":"quantitative","scale":{"domain":[-0.179,0.591],"nice":false,"zero":false},"axis":{"orient":"left","offset":-235,"values":[0.3,0.5],"format":"~g","domain":false,"ticks":false,"grid":false,"title":null,"labelFontSize":21,"labelPadding":3}}},
   "layer":[
    {"data":{"values":[{"x":24.6,"x2":50.4,"y":0.169,"y2":0.561}]},"mark":{"type":"rect","fill":"white","stroke":"#b5b5b5","strokeWidth":1.2},"encoding":{"x2":{"field":"x2"},"y2":{"field":"y2"}}},
    {"data":{"name":"bragg"},"transform":[{"fold":["ib"],"as":["k","y"]},{"filter":{"field":"y","valid":true}},{"flatten":["xs"],"as":["x"]},{"filter":"datum.x >= 24.7 && datum.x <= 50.3"}],"mark":{"type":"tick","orient":"vertical","size":3,"thickness":1,"opacity":0.85},"encoding":{"color":{"field":"ph","type":"nominal","scale":{"domain":["red","blue","green","black"],"range":["#ff2b2b","#2b3cff","#0f9a46","#1a1a1a"]},"legend":null}}},
    {"data":{"name":"idb"},"mark":{"type":"line","color":"#3d6bff","strokeWidth":1},"encoding":{}},
    {"data":{"name":"ilb"},"mark":{"type":"line","color":"#9a0e0e","strokeWidth":1.3},"encoding":{}},
    {"data":{"name":"ipb"},"mark":{"type":"rule","color":"#7fbcbc","strokeWidth":1.5},"encoding":{"y2":{"field":"b"}}},
    {"data":{"name":"ipb"},"mark":{"type":"circle","color":"#e02020","size":6,"opacity":1},"encoding":{}},
    {"data":{"values":[{"x":50.1,"y":0.452,"label":"(b)HP"}]},"mark":{"type":"text","color":"#000000","fontSize":27,"align":"right","baseline":"alphabetic"},"encoding":{"text":{"field":"label"}}}
   ]}
 ]},
{"width":510,"height":177,
 "resolve":{"scale":{"x":"independent","y":"independent"},"axis":{"x":"independent","y":"independent"}},
 "layer":[
  {"encoding":{
    "x":{"field":"x","type":"quantitative","scale":{"domain":[2,52],"nice":false,"zero":false},"axis":{"values":[5,10,15,20,25,30,35,40,45,50],"labelExpr":"datum.value % 10 == 0 ? datum.label : ''","labelFlush":false,"domain":false,"grid":false,"tickSize":-5,"tickColor":"#8f8f8f","labelFontSize":20,"labelPadding":8,"title":"2θ / ° (λ = 0.49542 Å)","titleFontSize":20,"titleFontWeight":"normal","titleY":43,"titleBaseline":"middle"}},
    "y":{"field":"y","type":"quantitative","scale":{"domain":[-1.22,6.0],"nice":false,"zero":false},"axis":{"values":[-1,0,1,2,3,4,5,6],"labelExpr":"datum.value == 0 || datum.value == 6 ? datum.label : ''","domain":false,"grid":false,"title":null,"tickSize":-5,"tickColor":"#8f8f8f","labelFontSize":20,"labelPadding":12}}},
   "layer":[
    {"data":{"name":"dc"},"mark":{"type":"line","color":"#3d6bff","strokeWidth":1},"encoding":{}},
    {"data":{"name":"bragg"},"transform":[{"fold":["yc"],"as":["k","y"]},{"filter":{"field":"y","valid":true}},{"flatten":["xs"],"as":["x"]}],"mark":{"type":"tick","orient":"vertical","size":5,"thickness":1.3},"encoding":{"color":{"field":"ph","type":"nominal","scale":{"domain":["red","blue","green","black"],"range":["#ff2b2b","#2b3cff","#0f9a46","#1a1a1a"]},"legend":null}}},
    {"data":{"name":"lc"},"mark":{"type":"line","color":"#9a0e0e","strokeWidth":2},"encoding":{}},
    {"data":{"name":"pc"},"mark":{"type":"rule","color":"#93caca","strokeWidth":3},"encoding":{"y2":{"field":"b"}}},
    {"data":{"name":"pc"},"mark":{"type":"rule","color":"#2f8585","strokeWidth":1},"encoding":{"y2":{"field":"b"}}},
    {"data":{"name":"pc"},"mark":{"type":"circle","color":"#e02020","size":10,"opacity":1},"encoding":{}},
    {"data":{"name":"oc"},"mark":{"type":"circle","color":"#d42a2a","size":7,"opacity":0.9},"encoding":{}}
   ]},
  {"encoding":{
    "x":{"field":"x","type":"quantitative","scale":{"domain":[1.58,52.08],"nice":false,"zero":false},"axis":{"orient":"bottom","offset":-71,"values":[30,40,50],"domain":false,"ticks":false,"grid":false,"title":null,"labelFontSize":21,"labelPadding":0,"labelFlush":false}},
    "y":{"field":"y","type":"quantitative","scale":{"domain":[-0.232,0.77],"nice":false,"zero":false},"axis":{"orient":"left","offset":-235,"values":[0.3,0.6],"format":"~g","domain":false,"ticks":false,"grid":false,"title":null,"labelFontSize":21,"labelPadding":3}}},
   "layer":[
    {"data":{"values":[{"x":24.85,"x2":50.4,"y":0.17,"y2":0.736}]},"mark":{"type":"rect","fill":"white","stroke":"#b5b5b5","strokeWidth":1.2},"encoding":{"x2":{"field":"x2"},"y2":{"field":"y2"}}},
    {"data":{"name":"bragg"},"transform":[{"fold":["ic"],"as":["k","y"]},{"filter":{"field":"y","valid":true}},{"flatten":["xs"],"as":["x"]},{"filter":"datum.x >= 24.95 && datum.x <= 50.3"}],"mark":{"type":"tick","orient":"vertical","size":3,"thickness":1,"opacity":0.85},"encoding":{"color":{"field":"ph","type":"nominal","scale":{"domain":["red","blue","green","black"],"range":["#ff2b2b","#2b3cff","#0f9a46","#1a1a1a"]},"legend":null}}},
    {"data":{"name":"idc"},"mark":{"type":"line","color":"#3d6bff","strokeWidth":1},"encoding":{}},
    {"data":{"name":"ilc"},"mark":{"type":"line","color":"#9a0e0e","strokeWidth":1.3},"encoding":{}},
    {"data":{"name":"ipc"},"mark":{"type":"rule","color":"#7fbcbc","strokeWidth":1.5},"encoding":{"y2":{"field":"b"}}},
    {"data":{"name":"ipc"},"mark":{"type":"circle","color":"#e02020","size":6,"opacity":1},"encoding":{}},
    {"data":{"values":[{"x":49.3,"y":0.583,"label":"(c)HP-AP"}]},"mark":{"type":"text","color":"#0a0aff","fontSize":27,"align":"right","baseline":"alphabetic"},"encoding":{"text":{"field":"label"}}}
   ]}
 ]}
],"spacing":12
}
